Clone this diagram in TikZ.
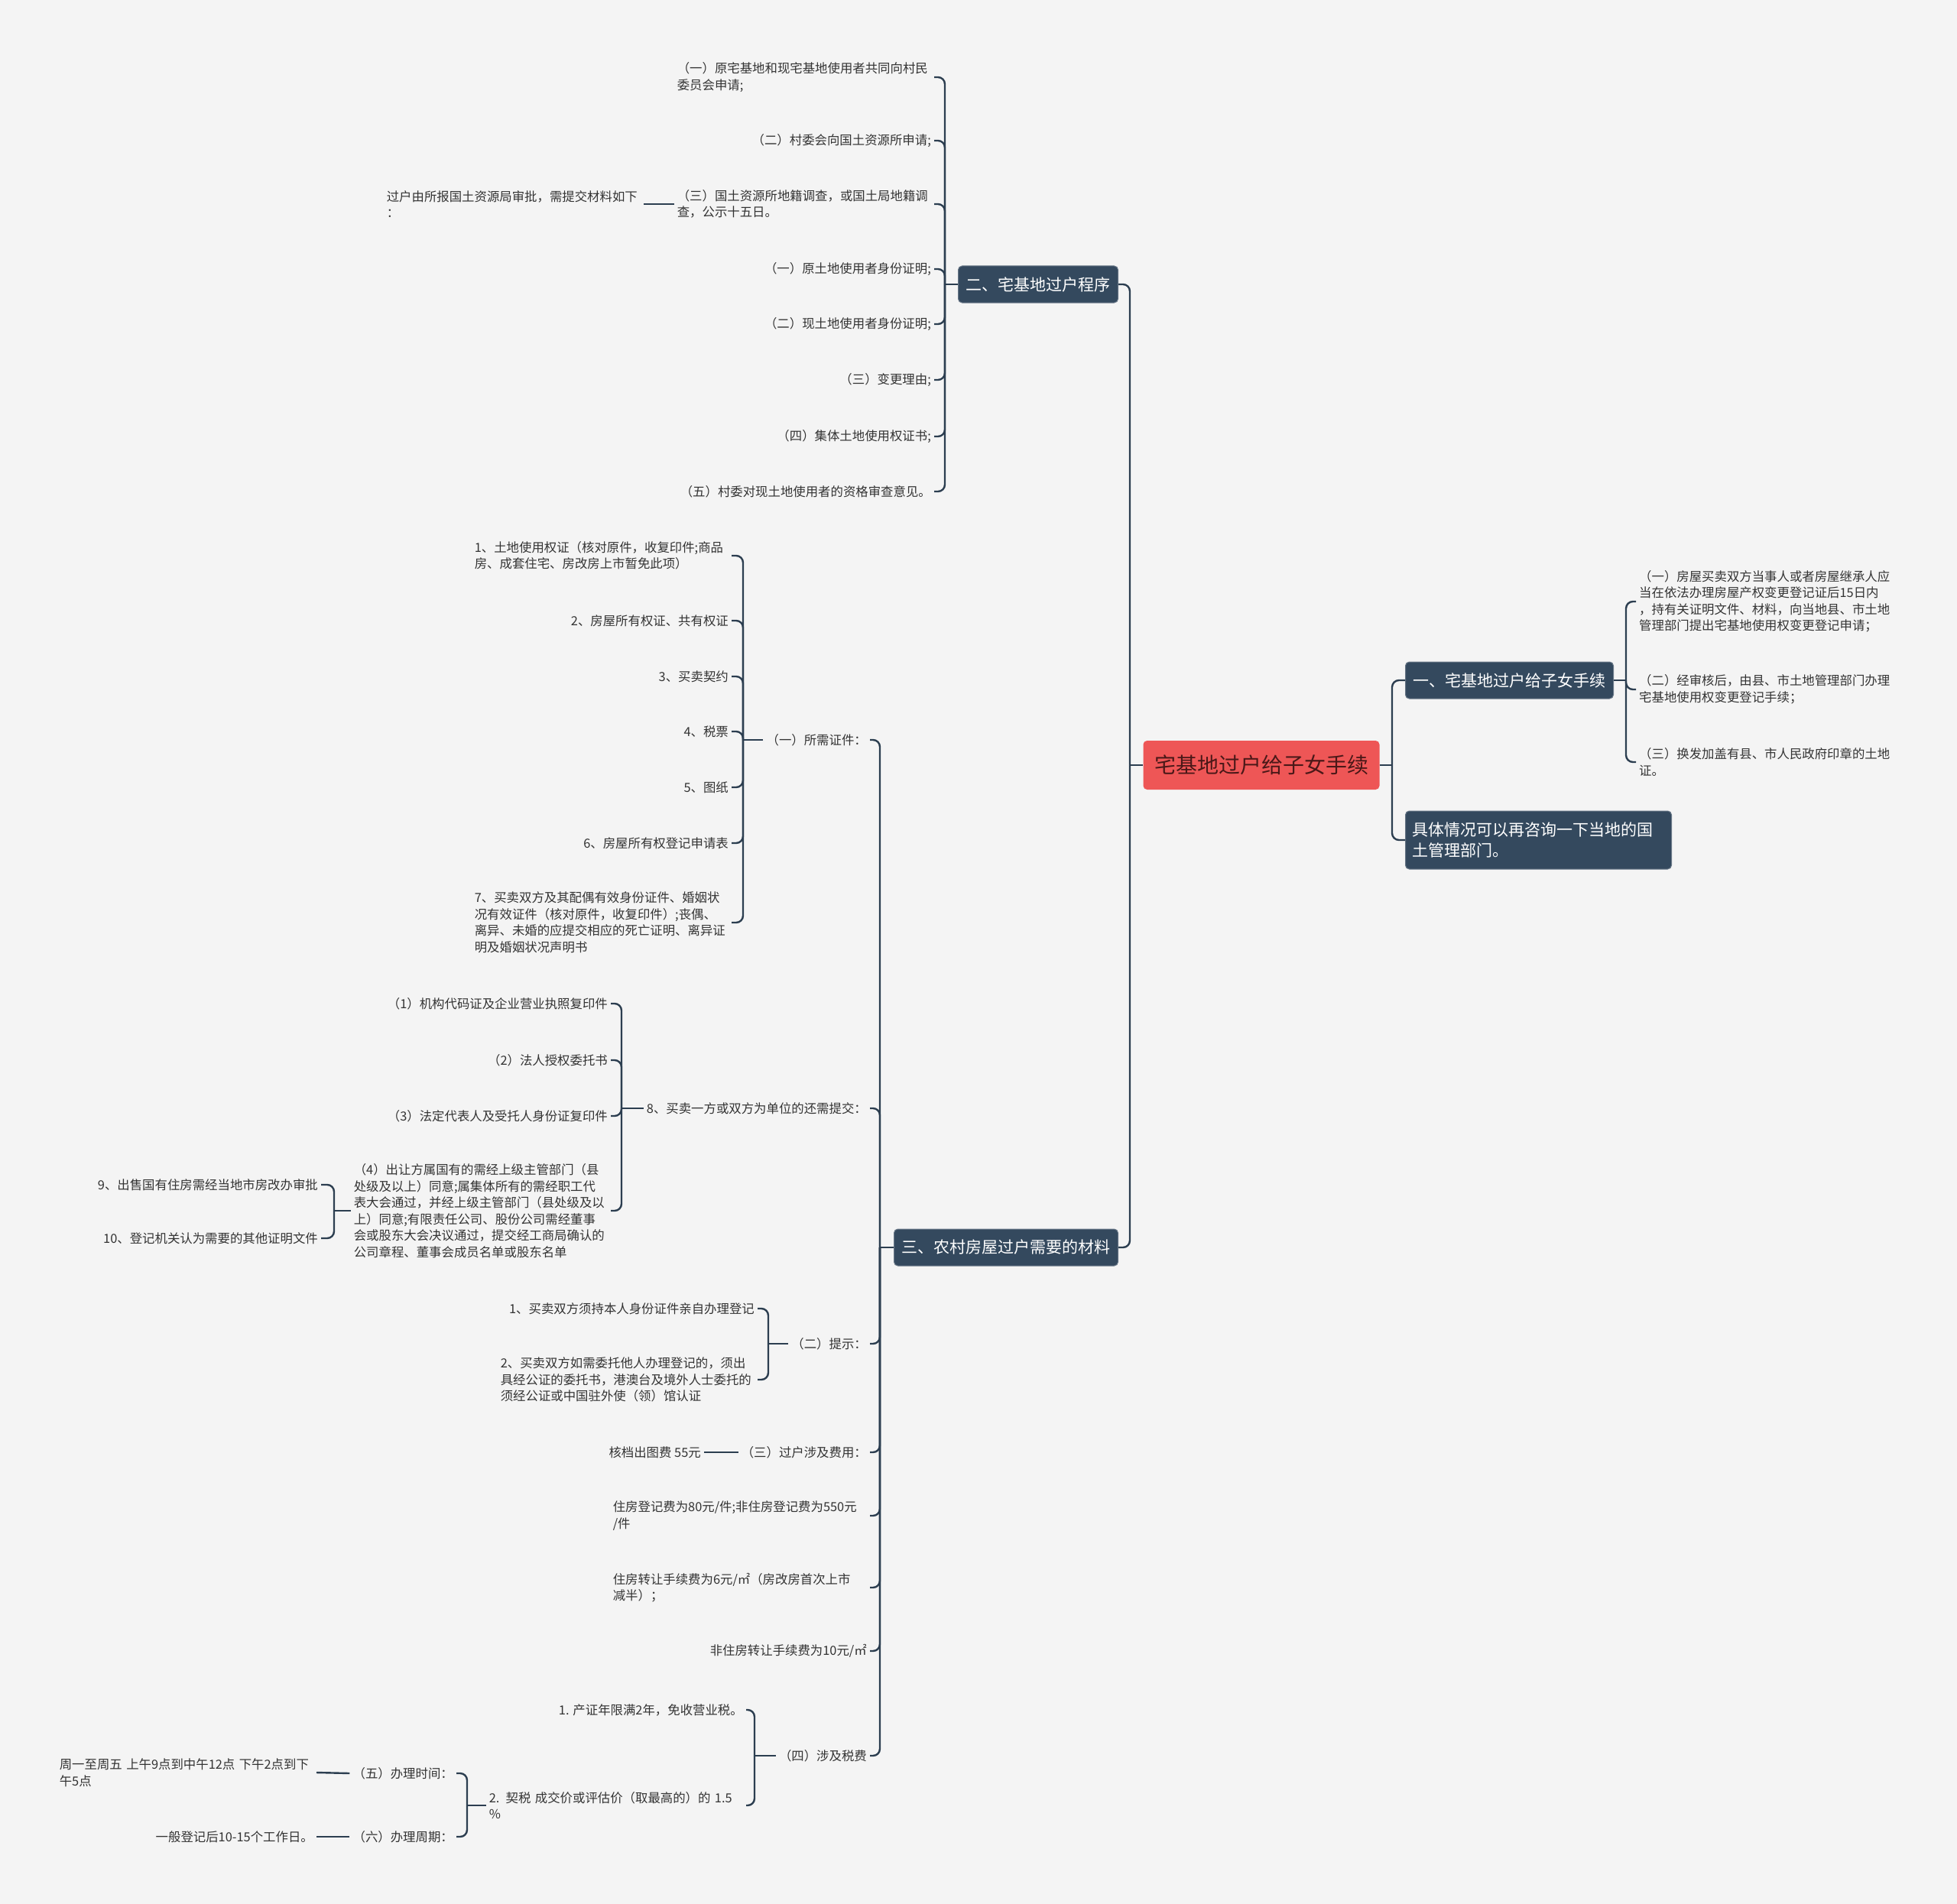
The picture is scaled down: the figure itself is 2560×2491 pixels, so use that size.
\documentclass[tikz,border=0pt]{standalone}
\usepackage{fontspec}
\setmainfont{Noto Sans CJK SC}
\definecolor{bgGray}{RGB}{244,244,244}
\definecolor{rootRed}{RGB}{238,86,86}
\definecolor{rootInk}{RGB}{74,24,24}
\definecolor{topicNavy}{RGB}{52,73,94}
\definecolor{lineNavy}{RGB}{44,62,80}
\definecolor{leafInk}{RGB}{51,51,51}

\begin{document}
\begin{tikzpicture}[
  x=1pt, y=-1pt,
  root/.style={
    rectangle,
    rounded corners=5pt,
    fill=rootRed,
    text=rootInk,
    font=\fontsize{28pt}{34pt}\selectfont,
    inner xsep=14.5pt,
    inner ysep=0pt,
    minimum height=64pt,
  },
  topic/.style={
    rectangle,
    rounded corners=5pt,
    fill=topicNavy,
    draw=topicNavy!75!white,
    line width=1pt,
    text=white,
    font=\fontsize{21pt}{27pt}\selectfont,
    inner xsep=10pt,
    inner ysep=0pt,
    minimum height=48pt,
  },
  leaf/.style={
    text=leafInk,
    font=\fontsize{16.4pt}{21.5pt}\selectfont,
    inner xsep=4pt,
    inner ysep=2pt,
  },
  leafL/.style={leaf, anchor=east},
  leafR/.style={leaf, anchor=west},
  wrap/.style={text width=332pt, align=left},
  link/.style={draw=lineNavy, line width=2.4pt, rounded corners=9pt},
]

  \fill[bgGray] (0,0) rectangle (2560,2491);
  \useasboundingbox (0,0) rectangle (2560,2491);

  \node[root] (root) at (1650,1001) {宅基地过户给子女手续};

  \node[topic, anchor=east] (t2) at (1463,372) {二、宅基地过户程序};
  \node[topic, anchor=east] (t3) at (1463,1632) {三、农村房屋过户需要的材料};
  \node[topic, anchor=west] (t1) at (1838,890) {一、宅基地过户给子女手续};
  \node[topic, anchor=west, text width=331pt, align=left, inner xsep=8.5pt,
        minimum height=76pt] (tinfo) at (1838,1099)
    {具体情况可以再咨询一下当地的国\\土管理部门。};

  % 二、宅基地过户程序
  \node[leafL, wrap] (p1) at (1222,101) {（一）原宅基地和现宅基地使用者共同向村民\\委员会申请;};
  \node[leafL] (p2) at (1222,184) {（二）村委会向国土资源所申请;};
  \node[leafL, wrap] (p3) at (1222,267) {（三）国土资源所地籍调查，或国土局地籍调\\查，公示十五日。};
  \node[leafL, wrap] (p3a) at (842,267) {过户由所报国土资源局审批，需提交材料如下\\：};
  \node[leafL] (p4) at (1222,352) {（一）原土地使用者身份证明;};
  \node[leafL] (p5) at (1222,424) {（二）现土地使用者身份证明;};
  \node[leafL] (p6) at (1222,497) {（三）变更理由;};
  \node[leafL] (p7) at (1222,571) {（四）集体土地使用权证书;};
  \node[leafL] (p8) at (1222,643) {（五）村委对现土地使用者的资格审查意见。};

  % 三、农村房屋过户需要的材料
  \node[leafL] (m1) at (1138,968) {（一）所需证件：};
  \node[leafL] (m8) at (1138,1450) {8、买卖一方或双方为单位的还需提交：};
  \node[leafL] (m2) at (1138,1758) {（二）提示：};
  \node[leafL] (m3) at (1138,1900) {（三）过户涉及费用：};
  \node[leafL, wrap] (m5) at (1138,1983) {住房登记费为80元/件;非住房登记费为550元\\/件};
  \node[leafL, wrap] (m6) at (1138,2077) {住房转让手续费为6元/㎡（房改房首次上市\\减半）；};
  \node[leafL] (m7) at (1138,2160) {非住房转让手续费为10元/㎡};
  \node[leafL] (m4) at (1138,2297) {（四）涉及税费};

  \node[leafL, wrap] (q1) at (957,727) {1、土地使用权证（核对原件，收复印件;商品\\房、成套住宅、房改房上市暂免此项）};
  \node[leafL] (q2) at (957,812) {2、房屋所有权证、共有权证};
  \node[leafL] (q3) at (957,885) {3、买卖契约};
  \node[leafL] (q4) at (957,957) {4、税票};
  \node[leafL] (q5) at (957,1030) {5、图纸};
  \node[leafL] (q6) at (957,1103) {6、房屋所有权登记申请表};
  \node[leafL, wrap] (q7) at (957,1207) {7、买卖双方及其配偶有效身份证件、婚姻状\\况有效证件（核对原件，收复印件）;丧偶、\\离异、未婚的应提交相应的死亡证明、离异证\\明及婚姻状况声明书};

  \node[leafL] (r1) at (799,1313) {（1）机构代码证及企业营业执照复印件};
  \node[leafL] (r2) at (799,1387) {（2）法人授权委托书};
  \node[leafL] (r3) at (799,1460) {（3）法定代表人及受托人身份证复印件};
  \node[leafL, wrap] (r4) at (799,1584) {（4）出让方属国有的需经上级主管部门（县\\处级及以上）同意;属集体所有的需经职工代\\表大会通过，并经上级主管部门（县处级及以\\上）同意;有限责任公司、股份公司需经董事\\会或股东大会决议通过，提交经工商局确认的\\公司章程、董事会成员名单或股东名单};
  \node[leafL] (r4a) at (420,1550) {9、出售国有住房需经当地市房改办审批};
  \node[leafL] (r4b) at (420,1620) {10、登记机关认为需要的其他证明文件};

  \node[leafL] (s1) at (991,1712) {1、买卖双方须持本人身份证件亲自办理登记};
  \node[leafL, wrap] (s2) at (991,1805) {2、买卖双方如需委托他人办理登记的，须出\\具经公证的委托书，港澳台及境外人士委托的\\须经公证或中国驻外使（领）馆认证};

  \node[leafL] (n1) at (921,1900) {核档出图费 55元};

  \node[leafL] (u1) at (976,2237) {1. 产证年限满2年，免收营业税。};
  \node[leafL, wrap] (u2) at (976,2362) {2. 契税 成交价或评估价（取最高的）的 1.5\\\%};
  \node[leafL] (v1) at (597,2320) {（五）办理时间：};
  \node[leafL] (v2) at (597,2403) {（六）办理周期：};
  \node[leafL, wrap] (w1) at (414,2319) {周一至周五 上午9点到中午12点 下午2点到下\\午5点};
  \node[leafL] (w2) at (414,2403) {一般登记后10-15个工作日。};

  % 一、宅基地过户给子女手续
  \node[leafR, wrap] (x1) at (2140,787) {（一）房屋买卖双方当事人或者房屋继承人应\\当在依法办理房屋产权变更登记证后15日内\\，持有关证明文件、材料，向当地县、市土地\\管理部门提出宅基地使用权变更登记申请；};
  \node[leafR, wrap] (x2) at (2140,902) {（二）经审核后，由县、市土地管理部门办理\\宅基地使用权变更登记手续；};
  \node[leafR, wrap] (x3) at (2140,997) {（三）换发加盖有县、市人民政府印章的土地\\证。};

  \coordinate (rootL) at (1478,1001);
  \coordinate (rootR) at (1821,1001);
  \coordinate (t2L) at (1236,372);
  \coordinate (t3L) at (1151,1632);
  \coordinate (t1R) at (2127,890);
  \coordinate (m1L) at (972,968);
  \coordinate (m8L) at (813,1450);
  \coordinate (r4L) at (437,1584);
  \coordinate (m2L) at (1005,1758);
  \coordinate (m4L) at (987,2297);
  \coordinate (u2L) at (611,2362);

  \draw[link] (root.west) -- (rootL);
  \foreach \t in {t2,t3} \draw[link] (rootL) |- (\t.east);
  \draw[link] (root.east) -- (rootR);
  \foreach \t in {t1,tinfo} \draw[link] (rootR) |- (\t.west);

  \draw[link] (t2.west) -- (t2L);
  \foreach \c in {p1,p2,p3,p4,p5,p6,p7,p8} \draw[link] (t2L) |- (\c.east);
  \draw[link] (p3.west) -- (p3a.east);

  \draw[link] (t3.west) -- (t3L);
  \foreach \c in {m1,m8,m2,m3,m5,m6,m7,m4} \draw[link] (t3L) |- (\c.east);

  \draw[link] (m1.west) -- (m1L);
  \foreach \c in {q1,q2,q3,q4,q5,q6,q7} \draw[link] (m1L) |- (\c.east);

  \draw[link] (m8.west) -- (m8L);
  \foreach \c in {r1,r2,r3,r4} \draw[link] (m8L) |- (\c.east);
  \draw[link] (r4.west) -- (r4L);
  \foreach \c in {r4a,r4b} \draw[link] (r4L) |- (\c.east);

  \draw[link] (m2.west) -- (m2L);
  \foreach \c in {s1,s2} \draw[link] (m2L) |- (\c.east);

  \draw[link] (m3.west) -- (n1.east);

  \draw[link] (m4.west) -- (m4L);
  \foreach \c in {u1,u2} \draw[link] (m4L) |- (\c.east);
  \draw[link] (u2.west) -- (u2L);
  \foreach \c in {v1,v2} \draw[link] (u2L) |- (\c.east);
  \draw[link] (v1.west) -- (w1.east);
  \draw[link] (v2.west) -- (w2.east);

  \draw[link] (t1.east) -- (t1R);
  \foreach \c in {x1,x2,x3} \draw[link] (t1R) |- (\c.west);

\end{tikzpicture}
\end{document}
